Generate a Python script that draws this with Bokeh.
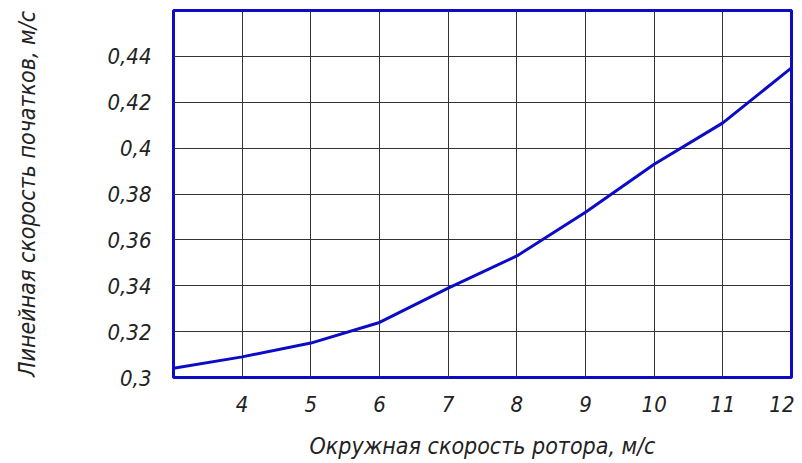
from bokeh.plotting import figure
from bokeh.models import FixedTicker, Range1d
from bokeh.embed import file_html
from bokeh.resources import INLINE

# Data
rotor_speed = [3, 4, 5, 6, 7, 8, 9, 10, 11, 12]
cob_speed = [0.304, 0.309, 0.315, 0.324, 0.339, 0.353, 0.372, 0.393, 0.411, 0.435]

x_ticks = [4, 5, 6, 7, 8, 9, 10, 11, 12]
x_tick_labels = ["4", "5", "6", "7", "8", "9", "10", "11", "12"]
y_ticks = [0.30, 0.32, 0.34, 0.36, 0.38, 0.40, 0.42, 0.44]
y_tick_labels = ["0,3", "0,32", "0,34", "0,36", "0,38", "0,4", "0,42", "0,44"]

x_title = "Окружная скорость ротора, м/с"
y_title = "Линейная скорость початков, м/с"

FONT = "'DejaVu Sans Condensed', 'Liberation Sans Narrow', sans-serif"
BLUE = "#0c0cc8"

p = figure(output_backend="svg", toolbar_location=None,
           frame_width=618, frame_height=367,
           x_range=Range1d(3, 12), y_range=Range1d(0.30, 0.46),
           min_border_left=173, min_border_right=3,
           min_border_top=10, min_border_bottom=78)

p.line(rotor_speed, cob_speed, line_color=BLUE, line_width=3)

p.outline_line_color = BLUE
p.outline_line_width = 3
p.outline_line_alpha = 1.0

p.xaxis.ticker = FixedTicker(ticks=x_ticks)
p.yaxis.ticker = FixedTicker(ticks=y_ticks)
p.xaxis.major_label_overrides = {t: l for t, l in zip(x_ticks, x_tick_labels)}
p.yaxis.major_label_overrides = {t: l for t, l in zip(y_ticks, y_tick_labels)}

p.xgrid.ticker = FixedTicker(ticks=x_ticks)
p.ygrid.ticker = FixedTicker(ticks=y_ticks)
for g in (p.xgrid, p.ygrid):
    g.grid_line_color = "#333333"
    g.grid_line_width = 1
    g.grid_line_alpha = 1.0

for ax in (p.xaxis, p.yaxis):
    ax.axis_line_color = None
    ax.major_tick_line_color = None
    ax.minor_tick_line_color = None
    ax.major_label_text_font = FONT
    ax.major_label_text_font_style = "italic"
    ax.major_label_text_font_size = "22px"
    ax.major_label_text_color = "#222222"
    ax.axis_label_text_font = FONT
    ax.axis_label_text_font_style = "italic"
    ax.axis_label_text_font_size = "23px"
    ax.axis_label_text_color = "#222222"

p.xaxis.axis_label = x_title
p.yaxis.axis_label = y_title
p.xaxis.major_label_standoff = 12
p.yaxis.major_label_standoff = 16
p.xaxis.axis_label_standoff = 18
p.yaxis.axis_label_standoff = 64

open("out.html", "w").write(file_html(p, INLINE))
